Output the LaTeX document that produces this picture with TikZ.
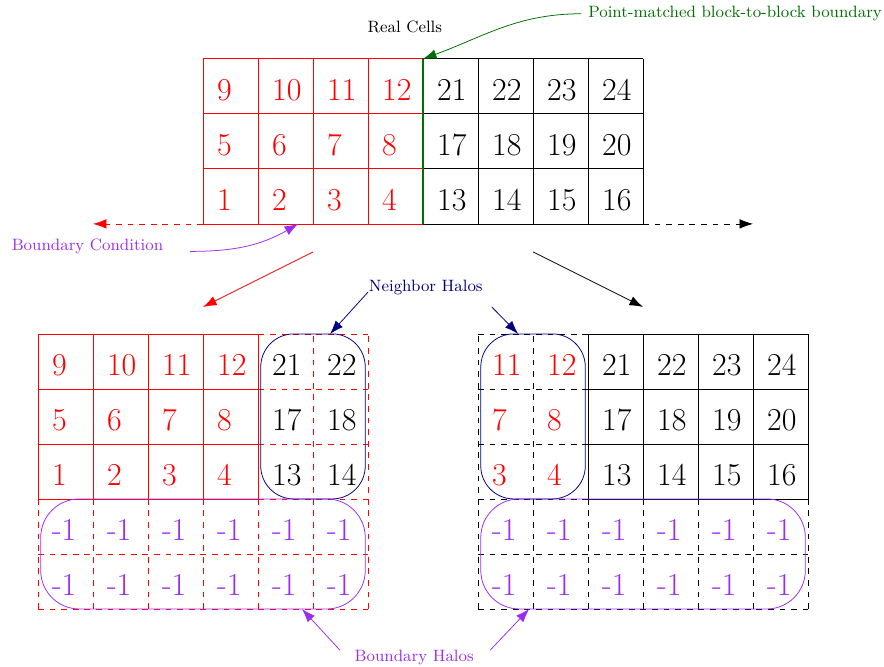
\documentclass[tikz,border=0pt]{standalone}
\usetikzlibrary{arrows.meta}
\definecolor{halopurple}{RGB}{155,45,240}
\definecolor{halonavy}{RGB}{0,0,128}
\definecolor{matchgreen}{RGB}{0,110,0}

\begin{document}
\begin{tikzpicture}[
		num/.style={anchor=base west,inner sep=0pt,font=\fontsize{16.5}{20}\selectfont},
		lbl/.style={font=\fontsize{8.5}{10}\selectfont},
		tip/.style={-{Latex[length=7pt,width=5pt]}},
		halobox/.style={rounded corners=0.6cm},
		bcbox/.style={rounded corners=0.7cm}
	]
	\useasboundingbox (-3.69,-8.04) rectangle (12.38,4.07);
	
	% real cells
	\draw[red] (0,0) grid (4,3);
	\draw (4,0) grid (8,3);
	\draw[thick,matchgreen] (4,0) -- (4,3);
	\foreach \r in {0,1,2} {
		\foreach \c [evaluate=\c as \n using int(4*\r+\c+1)] in {0,...,3}
			\node[num,red] (top\n) at (\c+0.25,\r+0.24) {\n};
		\foreach \c [evaluate=\c as \n using int(13+4*\r+\c)] in {0,...,3}
			\node[num] (top\n) at (\c+4.25,\r+0.24) {\n};
	}
	\coordinate (leftend) at (-2,0);
	\coordinate (rightend) at (10,0);
	\draw[red,dashed,tip] (0,0) -- (leftend);
	\draw[dashed,tip] (8,0) -- (rightend);
	
	\node[lbl] (realcells) at (3.67,3.58) {Real Cells};
	\node[lbl,matchgreen,anchor=west] (pmlabel) at (6.88,3.82) {Point-matched block-to-block boundary};
	\coordinate (pmtip) at (4,3);
	\draw[matchgreen,tip] (pmlabel.west) to[out=180,in=20] (pmtip);
	
	\node[lbl,halopurple] (bclabel) at (-2.1,-0.4) {Boundary Condition};
	\coordinate (bcstart) at (-0.24,-0.5);
	\coordinate (bctip) at (1.73,0);
	\draw[halopurple,tip] (bcstart) to[out=0,in=210] (bctip);
	
	\coordinate (splitL) at (2,-0.51);
	\coordinate (splitR) at (6,-0.51);
	\coordinate (blockL) at (0,-1.51);
	\coordinate (blockR) at (8,-1.51);
	\draw[red,tip] (splitL) -- (blockL);
	\draw[tip] (splitR) -- (blockR);
	
	% left block
	\draw[red,dashed] (-3,-7) grid (3,-2);
	\draw[red] (-3,-5) grid (1,-2);
	\foreach \r in {0,1,2} {
		\foreach \c [evaluate=\c as \n using int(4*\r+\c+1)] in {0,...,3}
			\node[num,red] (left\n) at (\c-2.75,\r-4.76) {\n};
		\foreach \c [evaluate=\c as \n using int(13+4*\r+\c)] in {0,1}
			\node[num] (left\n) at (\c+1.25,\r-4.76) {\n};
	}
	
	% right block
	\draw[dashed] (5,-7) grid (11,-2);
	\draw (7,-5) grid (11,-2);
	\foreach \r in {0,1,2} {
		\foreach \c [evaluate=\c as \n using int(3+4*\r+\c)] in {0,1}
			\node[num,red] (right\n) at (\c+5.25,\r-4.76) {\n};
		\foreach \c [evaluate=\c as \n using int(13+4*\r+\c)] in {0,...,3}
			\node[num] (right\n) at (\c+7.25,\r-4.76) {\n};
	}
	
	% boundary halos
	\foreach \r in {1,2}
		\foreach \c in {1,...,6} {
			\node[num,halopurple] (lbh\r\c) at (\c-3.75,\r-7.76) {-1};
			\node[num,halopurple] (rbh\r\c) at (\c+4.25,\r-7.76) {-1};
		}
	
	\draw[halonavy,halobox] (1.05,-5) rectangle (2.95,-2);
	\draw[halonavy,halobox] (5.05,-5) rectangle (6.95,-2);
	\draw[halopurple,bcbox] (-2.95,-7) rectangle (2.95,-5);
	\draw[halopurple,bcbox] (5.05,-7) rectangle (10.95,-5);
	
	\node[lbl,halonavy] (nhlabel) at (4.05,-1.15) {Neighbor Halos};
	\coordinate (nhstartL) at (3,-1.24);
	\coordinate (nhstartR) at (5.25,-1.51);
	\coordinate (nhtipL) at (2.31,-2);
	\coordinate (nhtipR) at (5.73,-2);
	\draw[halonavy,tip] (nhstartL) -- (nhtipL);
	\draw[halonavy,tip] (nhstartR) -- (nhtipR);
	
	\node[lbl,halopurple] (bhlabel) at (3.84,-7.89) {Boundary Halos};
	\coordinate (bhstartL) at (2.49,-7.75);
	\coordinate (bhstartR) at (5.22,-7.75);
	\coordinate (bhtipL) at (1.8,-7);
	\coordinate (bhtipR) at (5.93,-7);
	\draw[halopurple,tip] (bhstartL) -- (bhtipL);
	\draw[halopurple,tip] (bhstartR) -- (bhtipR);
\end{tikzpicture}
\end{document}
